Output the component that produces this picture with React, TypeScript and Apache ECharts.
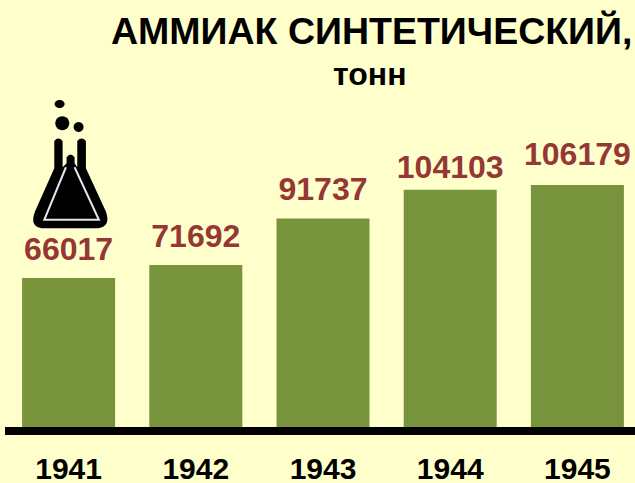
import React, { useEffect, useRef } from "react";
import * as echarts from "echarts";

const years = ["1941", "1942", "1943", "1944", "1945"];
const tons = [66017, 71692, 91737, 104103, 106179];
const labelNudges = [-2, -2, -2, 4, -4];
const titleText = "АММИАК СИНТЕТИЧЕСКИЙ,";
const unitText = "тонн";

const FONT = "'Liberation Sans', Arial, sans-serif";

echarts.graphic.registerShape(
  "flaskBody",
  echarts.graphic.extendPath(
    "M163,183 L163,265 L105,395 Q88,440 125,445 L295,445 Q334,440 318,395 L258,265 L258,183 Q245,168 232,183 L232,262 L224,250 L224,232 Q212,215 200,232 L200,250 L188,262 L188,183 Q175,168 163,183 Z",
    {}
  )
);

export default function App() {
  const ref = useRef<HTMLDivElement>(null);
  useEffect(() => {
    const chart = echarts.init(ref.current!, undefined, { renderer: "svg" });
    chart.setOption({
      animation: false,
      backgroundColor: "#FFFFCC",
      title: [
        {
          text: titleText,
          left: 111,
          top: 12,
          padding: 0,
          textStyle: { fontFamily: FONT, fontSize: 37.5, fontWeight: "bold", color: "#000" },
        },
        {
          text: unitText,
          left: 333,
          top: 58,
          padding: 0,
          textStyle: { fontFamily: FONT, fontSize: 32, fontWeight: "bold", color: "#000" },
        },
      ],
      grid: { left: 5, right: -6, top: 14, bottom: 52, outerBoundsMode: "none" },
      xAxis: {
        type: "category",
        data: years,
        z: 5,
        offset: 1,
        axisLine: { show: true, lineStyle: { color: "#000", width: 8, cap: "butt" } },
        axisTick: { show: false },
        axisLabel: {
          margin: 24,
          lineHeight: 24,
          fontFamily: FONT,
          fontSize: 30,
          fontWeight: "bold",
          color: "#000",
          interval: 0,
        },
      },
      yAxis: { type: "value", min: 0, max: 180000, show: false, splitLine: { show: false } },
      series: [
        {
          type: "bar",
          data: tons.map((value, i) => ({
            value,
            label: { offset: [0, labelNudges[i]] },
          })),
          barWidth: 93,
          itemStyle: { color: "#77933C" },
          label: {
            show: true,
            position: "top",
            distance: 11,
            fontFamily: FONT,
            fontSize: 32,
            fontWeight: "bold",
            color: "#953735",
          },
        },
      ],
      graphic: [
        {
          type: "group",
          x: 0,
          y: 80,
          scaleX: 1 / 3,
          scaleY: 1 / 3,
          children: [
            { type: "flaskBody", style: { fill: "#000" } },
            {
              type: "polyline",
              shape: { points: [[198, 262], [133, 420], [297, 420], [224, 262]] },
              style: { stroke: "#E6E6E6", lineWidth: 6, fill: "none" },
            },
            { type: "ellipse", shape: { cx: 179, cy: 72, rx: 15, ry: 12 }, style: { fill: "#000" } },
            { type: "circle", shape: { cx: 187, cy: 130, r: 21 }, style: { fill: "#000" } },
            { type: "circle", shape: { cx: 236, cy: 141, r: 15 }, style: { fill: "#000" } },
          ],
        },
      ],
    });
    return () => chart.dispose();
  }, []);
  return (
    <div
      ref={ref}
      style={{ position: "fixed", left: 0, top: 0, width: 635, height: 483, overflow: "hidden" }}
    />
  );
}
